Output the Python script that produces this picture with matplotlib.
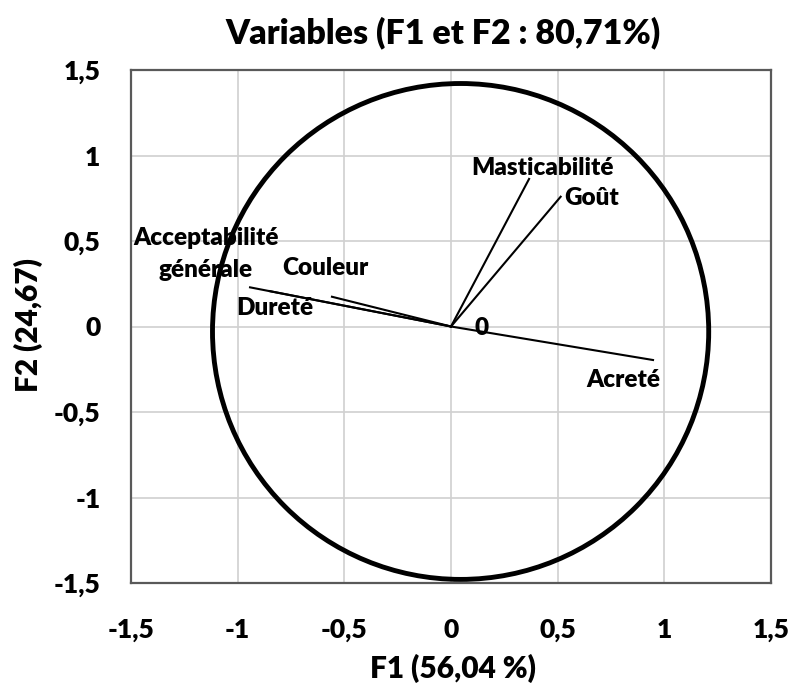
import matplotlib
matplotlib.use('Agg')
import matplotlib.pyplot as plt
from matplotlib.patches import Ellipse
from matplotlib.ticker import FuncFormatter

plt.rcParams['font.family'] = ['Lato', 'DejaVu Sans']
W = 'heavy'

# variable coordinates on F1 / F2
variables = ['Masticabilité', 'Goût', 'Acreté', 'Acceptabilité\ngénérale', 'Couleur', 'Dureté']
f1 = [0.366, 0.514, 0.947, -0.942, -0.558, -0.85]
f2 = [0.863, 0.759, -0.196, 0.229, 0.174, 0.207]
# label anchor points
lab_x = [0.431, 0.661, 0.806, -1.149, -0.591, -0.825]
lab_y = [0.927, 0.751, -0.313, 0.424, 0.342, 0.108]

ticks = [-1.5, -1, -0.5, 0, 0.5, 1, 1.5]

fig = plt.figure(figsize=(7.93, 6.88), dpi=100)
ax = fig.add_axes([131/793, 1-583/688, 640/793, 513/688])
ax.set_xlim(-1.5, 1.5)
ax.set_ylim(-1.5, 1.5)
ax.set_xticks(ticks)
ax.set_yticks(ticks)
fmt = FuncFormatter(lambda v, p: ('%g' % v).replace('.', ','))
ax.xaxis.set_major_formatter(fmt)
ax.yaxis.set_major_formatter(fmt)
ax.tick_params(length=0, labelsize=19)
ax.tick_params(axis='x', pad=25)
ax.tick_params(axis='y', pad=22)
for lab in ax.get_xticklabels() + ax.get_yticklabels():
    lab.set_fontweight(W)
ax.grid(True, color='#d0d0d0', linewidth=1.2)
ax.set_axisbelow(True)
for s in ax.spines.values():
    s.set_color('#595959')
    s.set_linewidth(1.6)

# correlation circle (drawn as in the original, slightly off centre)
ax.add_patch(Ellipse((0.045, -0.029), 2 * 1.163, 2 * 1.45, fill=False,
                     edgecolor='black', linewidth=3.5, zorder=3))

for i in range(len(variables)):
    ax.plot([0, f1[i]], [0, f2[i]], color='black', linewidth=1.5, zorder=4)
    ax.text(lab_x[i], lab_y[i], variables[i], ha='center', va='center',
            fontsize=17.5, fontweight=W, linespacing=1.6, zorder=5)
ax.text(0.141, -0.009, '0', ha='center', va='center', fontsize=17.5,
        fontweight=W, zorder=5)

fig.text(443/793, 1-33/688, 'Variables (F1 et F2 : 80,71%)', ha='center',
         va='center', fontsize=24.5, fontweight=W)
fig.text(453/793, 1-668/688, 'F1 (56,04 %)', ha='center', va='center',
         fontsize=21.5, fontweight=W)
fig.text(28/793, 1-325/688, 'F2 (24,67)', ha='center', va='center',
         fontsize=21.5, fontweight=W, rotation=90)

plt.savefig('out.png', dpi=100)
